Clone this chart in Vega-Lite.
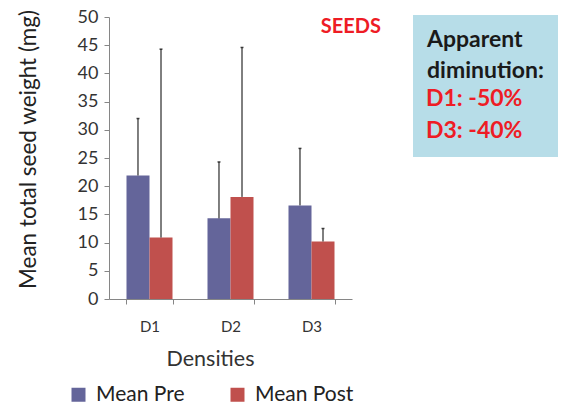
{
  "$schema": "https://vega.github.io/schema/vega-lite/v6.json",
  "width": 243,
  "height": 282,
  "autosize": {"type": "none"},
  "padding": {"left": 109, "top": 17, "right": 209, "bottom": 106},
  "background": "white",
  "config": {"font": "Lato", "view": {"stroke": null}},
  "title": {"text": "SEEDS", "anchor": "end", "frame": "group", "color": "#ee1c25", "fontSize": 20, "fontWeight": "bold", "dx": 29, "dy": 29, "offset": 0},
  "datasets": {
    "seeds": [
      {"density": "D1", "series": "Mean Pre", "mean": 21.9, "upper": 32.0},
      {"density": "D1", "series": "Mean Post", "mean": 10.9, "upper": 44.3},
      {"density": "D2", "series": "Mean Pre", "mean": 14.3, "upper": 24.3},
      {"density": "D2", "series": "Mean Post", "mean": 18.1, "upper": 44.6},
      {"density": "D3", "series": "Mean Pre", "mean": 16.6, "upper": 26.7},
      {"density": "D3", "series": "Mean Post", "mean": 10.2, "upper": 12.5}
    ],
    "notes": [{"note": "D1: -50%"}, {"note": "D3: -40%"}]
  },
  "layer": [
    {
      "data": {"name": "seeds"},
      "encoding": {
        "x": {"field": "density", "type": "nominal", "title": "Densities",
          "scale": {"paddingInner": 0.432, "paddingOuter": 0.216},
          "axis": {"labelAngle": 0, "labelFontSize": 15, "labelColor": "#333333", "tickBand": "extent", "domainColor": "#868686", "tickColor": "#868686", "tickSize": 5, "labelPadding": 15, "titleFontSize": 21.5, "titleFontWeight": "normal", "titleColor": "#333333", "titlePadding": 14, "titleX": 101, "titleAlign": "center"}},
        "xOffset": {"field": "series", "type": "nominal", "sort": ["Mean Pre", "Mean Post"], "scale": {"paddingInner": 0, "paddingOuter": 0}},
        "y": {"field": "mean", "type": "quantitative", "title": "Mean total seed weight (mg)",
          "scale": {"domain": [0, 50], "nice": false},
          "axis": {"values": [0, 5, 10, 15, 20, 25, 30, 35, 40, 45, 50], "labelOverlap": false, "grid": false, "labelFontSize": 18, "labelColor": "#333333", "domainColor": "#868686", "tickColor": "#868686", "tickSize": 5, "labelPadding": 6, "titleFontSize": 22.5, "titleFontWeight": "normal", "titleColor": "#222222", "titlePadding": 37, "titleY": 132, "titleAlign": "center"}}
      },
      "layer": [
        {
          "mark": {"type": "bar"},
          "encoding": {
            "color": {"field": "series", "type": "nominal",
              "scale": {"domain": ["Mean Pre", "Mean Post"], "range": ["#64659a", "#c0504d"]},
              "legend": {"title": null, "orient": "none", "direction": "horizontal", "legendX": -41, "legendY": 367, "symbolType": "square", "symbolSize": 196, "symbolStrokeWidth": 0, "labelFontSize": 21, "labelColor": "#222222", "columnPadding": 42, "labelOffset": 7}}
          }
        },
        {
          "mark": {"type": "rule", "color": "black", "strokeWidth": 1},
          "encoding": {"y2": {"field": "upper"}}
        },
        {
          "mark": {"type": "tick", "color": "black", "size": 3, "thickness": 1.5},
          "encoding": {"y": {"field": "upper", "type": "quantitative"}}
        }
      ]
    },
    {
      "data": {"name": "notes"},
      "mark": {"type": "point", "opacity": 0},
      "encoding": {
        "shape": {"field": "note", "type": "nominal",
          "legend": {"title": ["Apparent", "diminution:"], "orient": "none", "legendX": 304, "legendY": -2, "fillColor": "#b7dde8", "padding": 14, "titleFontSize": 23, "titleFontWeight": "bold", "titleColor": "#1a1a1a", "titleLineHeight": 31, "titlePadding": 4, "labelFontSize": 23, "labelFontWeight": "bold", "labelColor": "#ee1c25", "symbolSize": 0.01, "symbolOpacity": 0, "symbolStrokeWidth": 0, "labelOffset": -24, "rowPadding": 8}}
      }
    }
  ]
}
